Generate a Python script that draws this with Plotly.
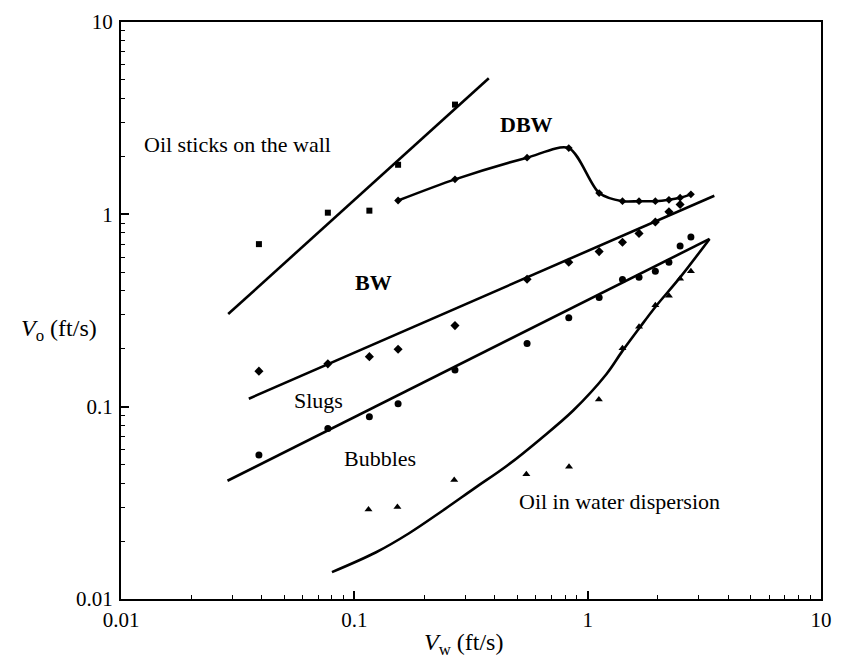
import plotly.graph_objects as go

# Oil sticks on the wall (squares)
wall_x = [0.039, 0.077, 0.116, 0.154, 0.27]
wall_y = [0.70, 1.02, 1.045, 1.81, 3.72]

# DBW transition data (on the DBW curve)
dbw_x = [0.154, 0.27, 0.55, 0.83, 1.12, 1.41, 1.66, 1.95, 2.23, 2.49, 2.77]
dbw_y = [1.18, 1.52, 1.97, 2.21, 1.29, 1.17, 1.17, 1.17, 1.19, 1.22, 1.27]

# BW / slugs transition data (diamonds)
bw_x = [0.039, 0.077, 0.116, 0.154, 0.27, 0.55, 0.83, 1.12, 1.41, 1.66, 1.95, 2.23, 2.49]
bw_y = [0.153, 0.167, 0.182, 0.199, 0.264, 0.46, 0.563, 0.64, 0.716, 0.796, 0.913, 1.03, 1.125]

# Slugs / bubbles transition data (circles)
sl_x = [0.039, 0.077, 0.116, 0.154, 0.27, 0.55, 0.83, 1.12, 1.41, 1.66, 1.95, 2.23, 2.49, 2.77]
sl_y = [0.056, 0.077, 0.0886, 0.1035, 0.155, 0.213, 0.29, 0.37, 0.459, 0.471, 0.506, 0.563, 0.685, 0.762]

# Bubbles / dispersion transition data (triangles)
bu_x = [0.115, 0.153, 0.268, 0.546, 0.832, 1.117, 1.41, 1.66, 1.95, 2.23, 2.49, 2.77]
bu_y = [0.0292, 0.0301, 0.0416, 0.0445, 0.0487, 0.109, 0.201, 0.26, 0.337, 0.377, 0.463, 0.506]

# Boundary lines
wall_line_x = [0.0288, 0.377]
wall_line_y = [0.303, 5.1]
bw_line_x = [0.0353, 3.49]
bw_line_y = [0.110, 1.25]
sl_line_x = [0.0286, 3.33]
sl_line_y = [0.0412, 0.745]
disp_line_x = [0.0802, 0.124, 0.171, 0.237, 0.328, 0.454, 0.628, 0.867, 1.20, 1.41,
               1.66, 1.95, 2.49, 3.33]
disp_line_y = [0.0138, 0.0175, 0.0219, 0.0286, 0.0377, 0.0496, 0.068, 0.0955, 0.147, 0.195,
               0.255, 0.330, 0.470, 0.745]

major_ticks = [0.01, 0.1, 1, 10]
tick_text = ["0.01", "0.1", "1", "10"]
minor_ticks = [m * d for d in (0.01, 0.1, 1) for m in range(2, 10)]

FONT = "Liberation Serif"
LW = 2.6
MS = 7

fig = go.Figure()

for lx, ly, shape in [
    (wall_line_x, wall_line_y, "linear"),
    (bw_line_x, bw_line_y, "linear"),
    (sl_line_x, sl_line_y, "linear"),
    (disp_line_x, disp_line_y, "spline"),
]:
    fig.add_trace(go.Scatter(x=lx, y=ly, mode="lines",
                             line=dict(color="black", width=LW, shape=shape, smoothing=1),
                             showlegend=False, hoverinfo="skip"))

# DBW curve drawn through its points
fig.add_trace(go.Scatter(x=dbw_x, y=dbw_y, mode="lines+markers",
                         line=dict(color="black", width=LW, shape="spline", smoothing=0.8),
                         marker=dict(symbol="diamond", size=MS - 1, color="black"),
                         showlegend=False))

fig.add_trace(go.Scatter(x=wall_x, y=wall_y, mode="markers",
                         marker=dict(symbol="square", size=MS - 1, color="black"), showlegend=False))
fig.add_trace(go.Scatter(x=bw_x, y=bw_y, mode="markers",
                         marker=dict(symbol="diamond", size=MS, color="black"), showlegend=False))
fig.add_trace(go.Scatter(x=sl_x, y=sl_y, mode="markers",
                         marker=dict(symbol="circle", size=MS, color="black"), showlegend=False))
fig.add_trace(go.Scatter(x=bu_x, y=bu_y, mode="markers",
                         marker=dict(symbol="triangle-up", size=MS, color="black"), showlegend=False))

axis_common = dict(
    type="log", range=[-2, 1],
    tickvals=major_ticks, ticktext=tick_text,
    ticks="inside", ticklen=8, tickwidth=1.5, tickcolor="black",
    minor=dict(tickvals=minor_ticks, ticks="inside", ticklen=4, tickwidth=1.2, tickcolor="black",
               showgrid=False),
    showline=True, linecolor="black", linewidth=2, mirror=True,
    showgrid=False, zeroline=False,
    tickfont=dict(family=FONT, size=21, color="black"),
)
fig.update_xaxes(ticklabelstandoff=1, **axis_common)
fig.update_yaxes(ticklabelstandoff=2, **axis_common)

annotations = [
    dict(x=239, y=138, text="Oil sticks on the wall"),
    dict(x=533, y=118, text="<b>DBW</b>"),
    dict(x=377, y=278, text="<b>BW</b>"),
    dict(x=321, y=398, text="Slugs"),
    dict(x=384, y=457, text="Bubbles"),
    dict(x=627, y=500, text="Oil in water dispersion"),
]
W, H = 842, 661
L, R, T, B = 121, 10.5, 14, 62
pw, ph = W - L - R, H - T - B
ann_list = []
for a in annotations:
    ann_list.append(dict(
        xref="paper", yref="paper",
        x=(a["x"] - L) / pw, y=1 - (a["y"] - T) / ph,
        text=a["text"], showarrow=False,
        font=dict(family=FONT, size=22, color="black"),
        xanchor="center", yanchor="middle",
    ))
# Axis titles
ann_list.append(dict(xref="paper", yref="paper", x=(469 - L) / pw, y=1 - (645 - T) / ph,
                     text="<i>V</i><sub>w</sub> (ft/s)", showarrow=False,
                     font=dict(family=FONT, size=24, color="black"),
                     xanchor="center", yanchor="middle"))
ann_list.append(dict(xref="paper", yref="paper", x=(58 - L) / pw, y=1 - (326 - T) / ph,
                     text="<i>V</i><sub>o</sub> (ft/s)", showarrow=False,
                     font=dict(family=FONT, size=24, color="black"),
                     xanchor="center", yanchor="middle"))

fig.update_layout(
    width=W, height=H,
    margin=dict(l=L, r=R, t=T, b=B),
    plot_bgcolor="white", paper_bgcolor="white",
    annotations=ann_list,
    showlegend=False,
)

fig.write_html("out.html")
